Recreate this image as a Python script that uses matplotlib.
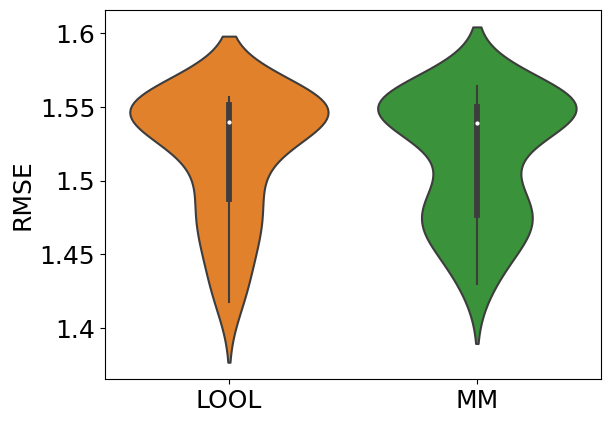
import pandas as pd
import matplotlib
matplotlib.use("Agg")
import matplotlib.pyplot as plt
import seaborn as sns

# -----------------------------
# DATI (RMSE per metodo)
# -----------------------------
methods = ["LOOL", "MM"]
rmse_lool = [1.418, 1.434, 1.451, 1.463, 1.473, 1.481,
             1.490, 1.504, 1.517, 1.527, 1.533, 1.538,
             1.542, 1.545, 1.547, 1.549, 1.550, 1.551,
             1.552, 1.553, 1.554, 1.555, 1.556, 1.557]
rmse_mm = [1.430, 1.446, 1.458, 1.466, 1.471, 1.474,
           1.478, 1.484, 1.492, 1.504, 1.521, 1.535,
           1.543, 1.545, 1.547, 1.548, 1.549, 1.550,
           1.551, 1.553, 1.555, 1.557, 1.560, 1.564]
colors = ["tab:orange", "tab:green"]
yticks = [1.4, 1.45, 1.5, 1.55, 1.6]
ytick_labels = ["1.4", "1.45", "1.5", "1.55", "1.6"]

df = pd.DataFrame({
    "method": [methods[0]] * len(rmse_lool) + [methods[1]] * len(rmse_mm),
    "RMSE": rmse_lool + rmse_mm,
})

# -----------------------------
# GRAFICO
# -----------------------------
fig, ax = plt.subplots(figsize=(6.1, 4.23), dpi=100)
sns.violinplot(data=df, x="method", y="RMSE", hue="method",
               palette=colors, legend=False, ax=ax,
               bw_adjust=0.9, linewidth=1.5,
               inner_kws=dict(box_width=4.2, whis_width=1.5,
                              marker="o", markersize=2.2))

ax.set_xlabel("")
ax.set_ylabel("RMSE", fontsize=18)
ax.set_yticks(yticks)
ax.set_yticklabels(ytick_labels)
ax.tick_params(axis="both", labelsize=18)

fig.subplots_adjust(left=0.172, right=0.985, top=0.976, bottom=0.104)
fig.savefig("out.png", dpi=100)
